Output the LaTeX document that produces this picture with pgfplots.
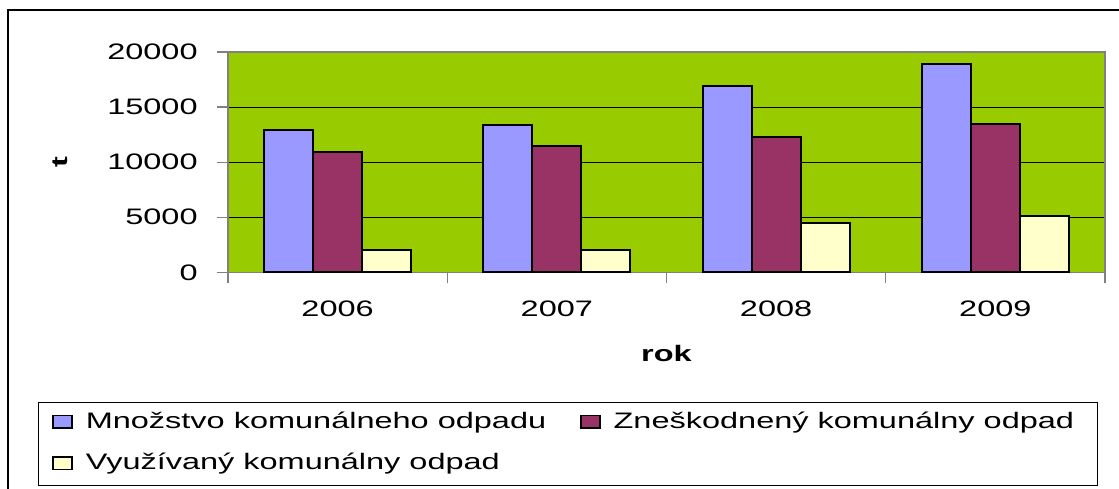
\documentclass[border=0pt]{standalone}
\usepackage{pgfplots}
\pgfplotsset{compat=1.18}
\usepackage{fontspec}
\setmainfont{Liberation Sans}[FakeStretch=1.45]
\newcommand\f{\fontsize{11.2}{13.5}\selectfont}
\definecolor{xgreen}{HTML}{99CC00}
\definecolor{xblue}{HTML}{9999FF}
\definecolor{xmaroon}{HTML}{993366}
\definecolor{xyellow}{HTML}{FFFFCC}
\definecolor{xgrey}{HTML}{808080}
\pgfplotsset{mylegend/.style={legend image code/.code={\draw[##1,line width=0.7pt] (0pt,-3.2pt) rectangle (9.5pt,3.2pt);}}}
\begin{document}
\begin{tikzpicture}
\useasboundingbox (0,0) rectangle (559.5pt,244pt);
\draw[line width=1.2pt] (4pt,-3pt) -- (4pt,239pt) -- (563pt,239pt);
\draw[line width=0.5pt] (19pt,1.5pt) rectangle (548.5pt,43pt);
\begin{axis}[
  at={(114pt,107.85pt)}, anchor=south west,
  scale only axis, width=438.5pt, height=110.15pt,
  ybar=0pt, bar width=24.5pt,
  xmin=-0.5, xmax=3.5, ymin=0, ymax=20000,
  axis background/.style={fill=xgreen},
  axis line style={xgrey, line width=0.6pt},
  ytick={0,5000,10000,15000,20000},
  scaled y ticks=false,
  /pgf/number format/.cd, set thousands separator={}, assume math mode=true, /pgfplots/.cd,
  ymajorgrids, grid style={black, line width=0.5pt},
  tick align=outside, major tick length=5.5pt,
  xtick pos=bottom, ytick pos=left,
  tick style={xgrey, line width=0.6pt},
  xtick={-0.5,0.5,1.5,2.5,3.5}, xticklabels={},
  extra x ticks={0,1,2,3},
  extra x tick labels={2006,2007,2008,2009},
  extra x tick style={major tick length=0pt, grid=none, tick style={draw=none}},
  xmajorgrids=false,
  ticklabel style={font=\f},
  yticklabel style={anchor=east, inner sep=0pt, xshift=-9.5pt},
  xticklabel style={anchor=base, yshift=-22.2pt},
  xlabel={rok}, ylabel={t},
  xlabel style={at={(axis description cs:0.5,-0.4058)}, anchor=base, font=\f\bfseries},
  ylabel style={at={(axis description cs:-0.19156,0.5)}, anchor=center, font=\f\bfseries},
  legend columns=2,
  legend cell align=left,
  legend style={draw=none, fill=none, at={(axis description cs:-0.20068,-0.7726)}, anchor=west,
    inner sep=0pt, row sep=11pt, font=\f,
    nodes={inner sep=0pt}, cells={anchor=west},
    /tikz/every odd column/.append style={column sep=6.5pt},
    /tikz/every even column/.append style={column sep=17pt}},
]
\addplot[fill=xblue, draw=black, line width=1pt, mylegend] coordinates {(0,12900) (1,13400) (2,16900) (3,18900)};
\addplot[fill=xmaroon, draw=black, line width=1pt, mylegend] coordinates {(0,10900) (1,11500) (2,12300) (3,13500)};
\addplot[fill=xyellow, draw=black, line width=1pt, mylegend] coordinates {(0,2000) (1,2000) (2,4500) (3,5100)};
\legend{Množstvo komunálneho odpadu, Zneškodnený komunálny odpad, Využívaný komunálny odpad}
\end{axis}
\end{tikzpicture}
\end{document}
